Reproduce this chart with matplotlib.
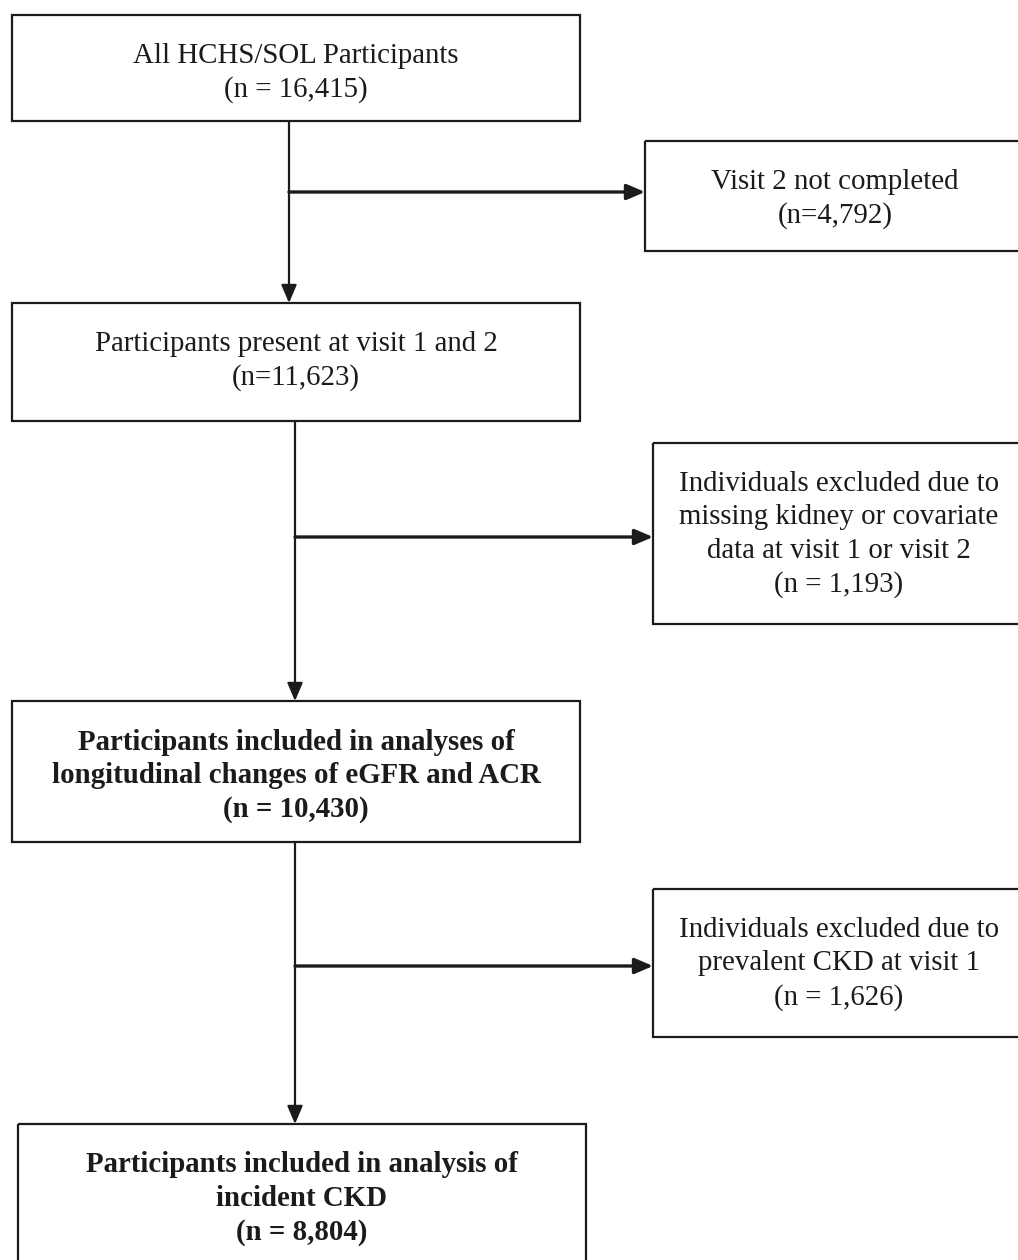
import matplotlib.pyplot as plt
from matplotlib.patches import Rectangle

# box texts (one entry per line)
main_texts = [
    ["All HCHS/SOL Participants", "(n = 16,415)"],
    ["Participants present at visit 1 and 2", "(n=11,623)"],
    ["Participants included in analyses of",
     "longitudinal changes of eGFR and ACR", "(n = 10,430)"],
    ["Participants included in analysis of", "incident CKD", "(n = 8,804)"],
]
main_bold = [False, False, True, True]
side_texts = [
    ["Visit 2 not completed", "(n=4,792)"],
    ["Individuals excluded due to", "missing kidney or covariate",
     "data at visit 1 or visit 2", "(n = 1,193)"],
    ["Individuals excluded due to", "prevalent CKD at visit 1", "(n = 1,626)"],
]

# layout in pixels (x0, y0, x1, y1)
main_boxes = [(12, 15, 580, 121), (12, 303, 580, 421),
              (12, 701, 580, 842), (18, 1124, 586, 1275)]
side_boxes = [(645, 141, 1025, 251), (653, 443, 1025, 624),
              (653, 889, 1025, 1037)]
trunk_x = [289, 295, 295]
branch_y = [192, 537, 966]

INK = "#1c1a1b"
FONT = "Liberation Serif"

fig = plt.figure(figsize=(10.18, 12.6), dpi=100)
ax = fig.add_axes([0, 0, 1, 1])
ax.set_xlim(0, 1018)
ax.set_ylim(1260, 0)
ax.axis("off")


def draw_box(box, lines, bold=False):
    x0, y0, x1, y1 = box
    ax.add_patch(Rectangle((x0, y0), x1 - x0, y1 - y0, fill=False,
                           edgecolor=INK, lw=1.6))
    cx = (x0 + x1) / 2
    for k, s in enumerate(lines):
        ax.text(cx, y0 + 38 + k * 33.5, s, ha="center", va="center_baseline",
                fontsize=20.8, family=FONT, color=INK,
                fontweight="bold" if bold else "normal")


for box, lines, b in zip(main_boxes, main_texts, main_bold):
    draw_box(box, lines, b)
for box, lines in zip(side_boxes, side_texts):
    draw_box(box, lines)

arrow = dict(arrowstyle="-|>,head_length=1.1,head_width=0.47", color=INK,
             shrinkA=0, shrinkB=0)
for i in range(3):
    x = trunk_x[i]
    top = main_boxes[i][3]
    bottom = main_boxes[i + 1][1]
    ax.annotate("", xy=(x, bottom), xytext=(x, top),
                arrowprops=dict(arrow, lw=1.6))
    ax.annotate("", xy=(side_boxes[i][0], branch_y[i]), xytext=(x, branch_y[i]),
                arrowprops=dict(arrow, lw=2.4))

fig.savefig("out.png", dpi=100)
